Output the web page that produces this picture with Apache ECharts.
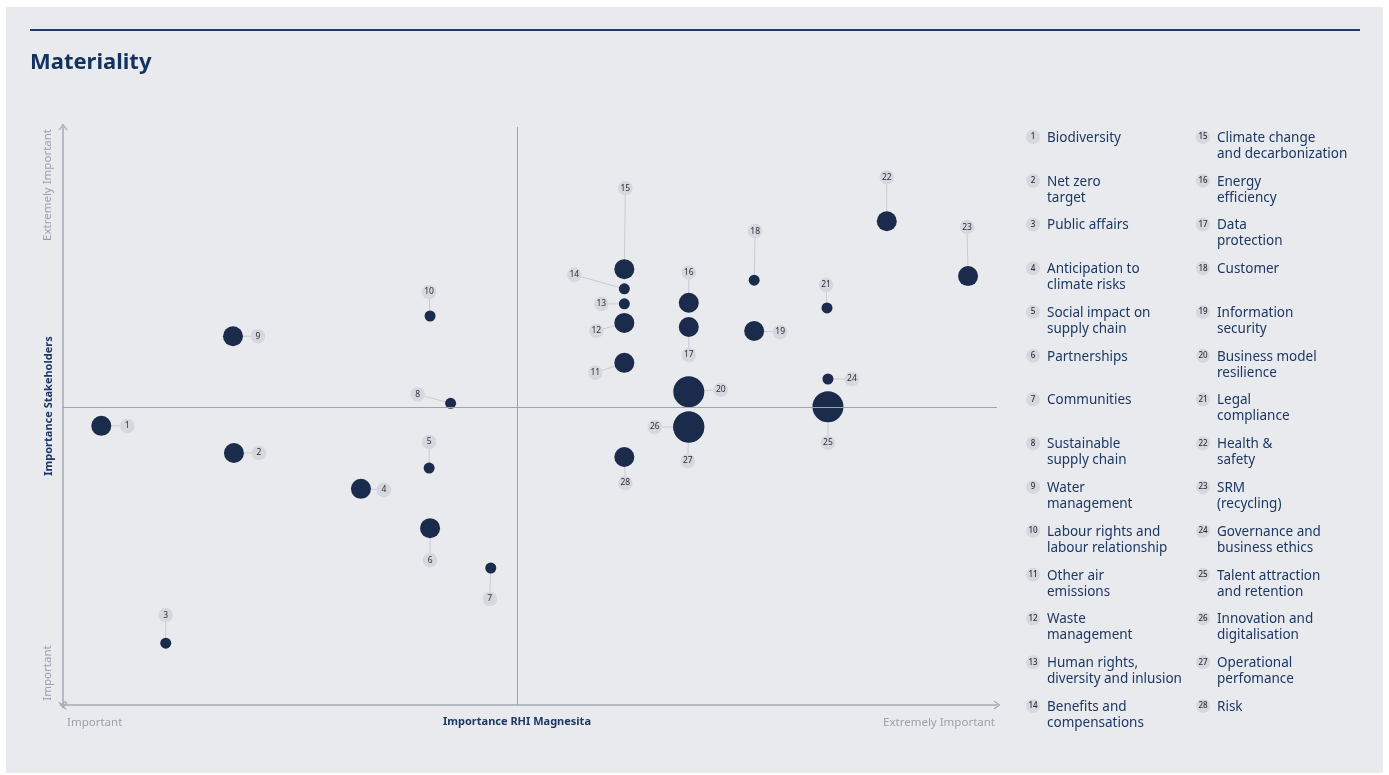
<!DOCTYPE html>
<html>
<head>
<meta charset="utf-8">
<title>Materiality</title>
<script src="https://cdn.jsdelivr.net/npm/echarts@6/dist/echarts.min.js"></script>
<style>
  html, body { margin: 0; padding: 0; background: #ffffff; }
  #panel { position: absolute; left: 6px; top: 7px; width: 1377px; height: 766px; background: #e9eaee; }
  #chart { position: absolute; left: 0; top: 0; width: 1389px; height: 775px; }
</style>
</head>
<body>
<div id="panel"></div>
<div id="chart"></div>
<script>
// Materiality topics, numbered 1..28
const topicNames = [
  'Biodiversity', 'Net zero\ntarget', 'Public affairs', 'Anticipation to\nclimate risks',
  'Social impact on\nsupply chain', 'Partnerships', 'Communities', 'Sustainable\nsupply chain',
  'Water\nmanagement', 'Labour rights and\nlabour relationship', 'Other air\nemissions',
  'Waste\nmanagement', 'Human rights,\ndiversity and inlusion', 'Benefits and\ncompensations',
  'Climate change\nand decarbonization', 'Energy\nefficiency', 'Data\nprotection', 'Customer',
  'Information\nsecurity', 'Business model\nresilience', 'Legal\ncompliance', 'Health &\nsafety',
  'SRM\n(recycling)', 'Governance and\nbusiness ethics', 'Talent attraction\nand retention',
  'Innovation and\ndigitalisation', 'Operational\nperfomance', 'Risk'
];

// Importance for RHI Magnesita (0-100)
const importanceCompany = [
  4.1, 18.3, 11.0, 31.9, 39.2, 39.3, 45.8, 41.5, 18.2, 39.3,
  60.1, 60.1, 60.1, 60.1, 60.1, 67.0, 67.0, 74.0, 74.0, 67.0,
  81.8, 88.2, 96.9, 81.9, 81.9, 67.0, 67.0, 60.1
];

// Importance for stakeholders (0-100)
const importanceStakeholders = [
  48.3, 43.6, 10.7, 37.4, 41.0, 30.6, 23.7, 52.2, 63.8, 67.3,
  59.2, 66.1, 69.4, 72.0, 75.4, 69.6, 65.4, 73.5, 64.7, 54.2,
  68.7, 83.7, 74.2, 56.4, 51.6, 48.1, 48.1, 42.9
];

// Impact class of each topic (1 = low, 2 = medium, 3 = high)
const impactClass = [
  2, 2, 1, 2, 1, 2, 1, 1, 2, 1,
  2, 2, 1, 1, 2, 2, 2, 1, 2, 3,
  1, 2, 2, 1, 3, 3, 3, 2
];

// Quadrant dividers
const dividerX = 48.6;
const dividerY = 51.6;

// ---- presentation ----
const NAVY = '#1b2b4b';
const TEXT_NAVY = '#1c3864';
const GREY_TEXT = '#9ba1aa';
const FONT = '"Noto Sans", "Open Sans", sans-serif';
const bubbleSize = { 1: 11, 2: 20, 3: 31 };

// pixel offset of each number badge from its bubble
const badgeOffset = [
  [26, 0], [25, 0], [0, -28], [23, 1], [0, -26], [0, 32], [-1, 31], [-33, -9], [25, 0], [-1, -24],
  [-29, 10], [-28, 8], [-23, 0], [-50, -14], [1, -81], [0, -30], [0, 28], [1, -49], [26, 1], [32, -2],
  [-1, -23], [0, -44], [-1, -49], [24, 0], [0, 36], [-34, 0], [-1, 34], [1, 26]
];

const points = importanceCompany.map((x, i) => [x, importanceStakeholders[i], impactClass[i]]);

const chevron = 'path://M5 0L10 7L9 8L5 2.2L1 8L0 7Z';

function axisCfg() {
  return {
    type: 'value', min: 0, max: 100,
    splitLine: { show: false },
    axisTick: { show: false },
    axisLabel: { show: false },
    axisLine: {
      show: true,
      symbol: [chevron, chevron],
      symbolSize: [12, 7],
      lineStyle: { color: '#a3aab5', width: 1.5 }
    }
  };
}

// legend: two columns of numbered topics
const legendGraphics = [];
topicNames.forEach((name, i) => {
  const col = i < 14 ? 0 : 1;
  const row = i % 14;
  const cy = 137 + row * 43.77;
  const bx = col === 0 ? 1033 : 1203;
  const tx = col === 0 ? 1047 : 1217;
  legendGraphics.push({
    type: 'circle', shape: { cx: bx, cy: cy, r: 7 }, style: { fill: '#d5d8de' }, silent: true
  });
  legendGraphics.push({
    type: 'text', x: bx, y: cy,
    style: { text: String(i + 1), fill: '#2b2f38', font: '500 8px ' + FONT, align: 'center', verticalAlign: 'middle' },
    silent: true
  });
  legendGraphics.push({
    type: 'text', x: tx, y: cy - 7,
    style: { text: name, fill: TEXT_NAVY, font: '13.5px ' + FONT, lineHeight: 16, align: 'left', verticalAlign: 'top' },
    silent: true
  });
});

const chart = echarts.init(document.getElementById('chart'), null, { renderer: 'canvas' });

chart.setOption({
  backgroundColor: 'transparent',
  animation: false,
  grid: { left: 63, right: 392, top: 127, bottom: 70 },
  xAxis: axisCfg(),
  yAxis: axisCfg(),
  graphic: [
    { type: 'line', shape: { x1: 30, y1: 30, x2: 1360, y2: 30 }, style: { stroke: '#1d3c6c', lineWidth: 2 }, silent: true },
    { type: 'text', x: 30, y: 52, style: { text: 'Materiality', fill: '#12325f', font: 'bold 22px ' + FONT, verticalAlign: 'top' }, silent: true },
    { type: 'text', x: 67, y: 723, style: { text: 'Important', fill: GREY_TEXT, font: '11.5px ' + FONT, align: 'left', verticalAlign: 'middle' }, silent: true },
    { type: 'text', x: 995, y: 723, style: { text: 'Extremely Important', fill: GREY_TEXT, font: '11.5px ' + FONT, align: 'right', verticalAlign: 'middle' }, silent: true },
    { type: 'text', x: 517, y: 722, style: { text: 'Importance RHI Magnesita', fill: TEXT_NAVY, font: 'bold 11px ' + FONT, align: 'center', verticalAlign: 'middle' }, silent: true },
    { type: 'text', x: 48, y: 185, rotation: Math.PI / 2, style: { text: 'Extremely Important', fill: GREY_TEXT, font: '11.5px ' + FONT, align: 'center', verticalAlign: 'middle' }, silent: true },
    { type: 'text', x: 48, y: 673, rotation: Math.PI / 2, style: { text: 'Important', fill: GREY_TEXT, font: '11.5px ' + FONT, align: 'center', verticalAlign: 'middle' }, silent: true },
    { type: 'text', x: 49, y: 406, rotation: Math.PI / 2, style: { text: 'Importance Stakeholders', fill: TEXT_NAVY, font: 'bold 11px ' + FONT, align: 'center', verticalAlign: 'middle' }, silent: true }
  ].concat(legendGraphics),
  series: [
    {
      // number badges with connector lines
      type: 'custom',
      z: 1,
      silent: true,
      data: points,
      renderItem: function (params, api) {
        const i = params.dataIndex;
        const p = api.coord([api.value(0), api.value(1)]);
        const off = badgeOffset[i];
        const bx = p[0] + off[0];
        const by = p[1] + off[1];
        return {
          type: 'group',
          children: [
            { type: 'line', shape: { x1: p[0], y1: p[1], x2: bx, y2: by }, style: { stroke: '#c8ccd3', lineWidth: 1 } },
            { type: 'circle', shape: { cx: bx, cy: by, r: 7.3 }, style: { fill: '#d5d8de' } },
            { type: 'text', x: bx, y: by, style: { text: String(i + 1), fill: '#2b2f38', font: '8.5px ' + FONT, align: 'center', verticalAlign: 'middle' } }
          ]
        };
      }
    },
    {
      type: 'scatter',
      z: 3,
      data: points,
      symbolSize: function (v) { return bubbleSize[v[2]]; },
      itemStyle: { color: NAVY, opacity: 1 },
      markLine: {
        silent: true,
        symbol: 'none',
        label: { show: false },
        lineStyle: { color: '#9ea4ae', width: 1, type: 'solid' },
        data: [{ xAxis: dividerX }, { yAxis: dividerY }]
      }
    }
  ]
});
</script>
</body>
</html>
